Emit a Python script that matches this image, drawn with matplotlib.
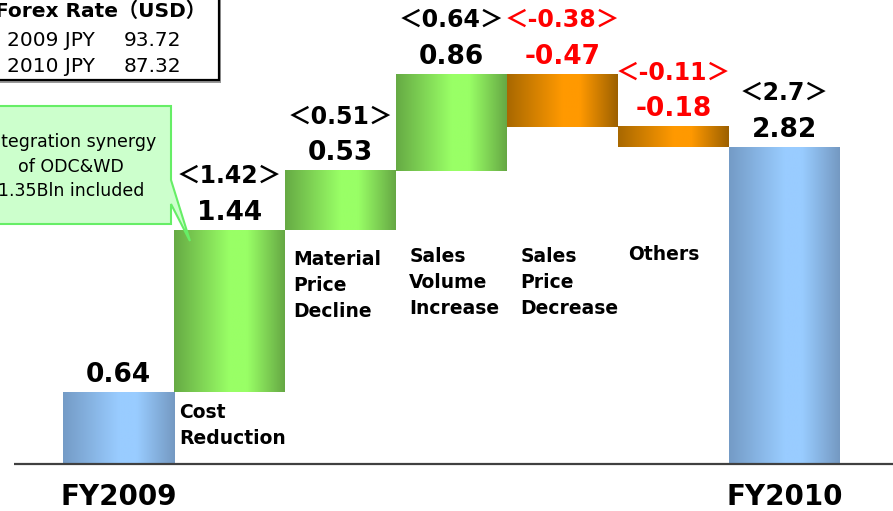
import numpy as np
import matplotlib
matplotlib.use("Agg")
import matplotlib.pyplot as plt
from matplotlib.colors import LinearSegmentedColormap
from matplotlib.patches import Rectangle, Polygon

# ---- data ----
categories = ["FY2009", "Cost\nReduction", "Material\nPrice\nDecline", "Sales\nVolume\nIncrease",
              "Sales\nPrice\nDecrease", "Others", "FY2010"]
values = [0.64, 1.44, 0.53, 0.86, -0.47, -0.18, 2.82]
bracket_values = [None, 1.42, 0.51, 0.64, -0.38, -0.11, 2.7]
kinds = ["total", "delta", "delta", "delta", "delta", "delta", "total"]
forex_title = "Forex Rate（USD）"
forex_rows = [("2009 JPY", "93.72"), ("2010 JPY", "87.32")]
callout_lines = ["Integration synergy", "of ODC&WD", "1.35Bln included"]

# ---- layout / styles ----
label_dx = [0, 0.05, 0.07, 0.12, 0.12, 0.09, 0]
label_top = [0, 0.54, 1.90, 1.93, 1.93, 1.95, 0]

W, H = 893, 511
fig = plt.figure(figsize=(W / 100, H / 100), dpi=100)
ax = fig.add_axes([0, 0, 1, 1])
px_x, px_y = 111.0, 112.4
x0_px, y0_px = 118.5, 464.0
ax.set_xlim(-x0_px / px_x, (W - x0_px) / px_x)
ax.set_ylim(-(H - y0_px) / px_y, y0_px / px_y)
ax.axis("off")

def grad_cmap(dark, light, dark2=None):
    dark2 = dark2 or dark
    return LinearSegmentedColormap.from_list(
        "g", [(0, dark), (0.5, light), (0.66, light), (1, dark2)])

cmaps = {
    "blue": grad_cmap("#749BC6", "#99CCFF", "#7499C2"),
    "green": grad_cmap("#66AA44", "#99FF66", "#66A844"),
    "orange": grad_cmap("#A86800", "#FF9900", "#9C6000"),
}
grad = np.linspace(0, 1, 256).reshape(1, -1)

mixed_font = ["DejaVu Sans", "Noto Sans CJK JP"]
cum = 0.0
for i, (cat, v, bv, kind) in enumerate(zip(categories, values, bracket_values, kinds)):
    if kind == "total":
        bottom, top = 0.0, v
        cum = v
        cm = cmaps["blue"]
    else:
        bottom, top = (cum, cum + v) if v >= 0 else (cum + v, cum)
        cum += v
        cm = cmaps["green"] if v >= 0 else cmaps["orange"]
    ax.imshow(grad, cmap=cm, extent=[i - 0.5, i + 0.5, bottom, top],
              aspect="auto", zorder=2, interpolation="bilinear")
    col = "red" if v < 0 else "black"
    upper = max(bottom, top)
    ax.annotate(f"{v:.2f}", (i, upper), xytext=(0, 12.5), textcoords="offset points",
                ha="center", va="center", fontsize=19, fontweight="bold", color=col,
                family="DejaVu Sans", zorder=5)
    if bv is not None:
        ax.annotate(f"＜{bv:g}＞", (i, upper), xytext=(0, 39), textcoords="offset points",
                    ha="center", va="center", fontsize=17, fontweight="bold", color=col,
                    family=mixed_font, zorder=5)
    if kind == "total":
        ax.annotate(cat, (i, 0), xytext=(0, -24), textcoords="offset points",
                    ha="center", va="center", fontsize=20, fontweight="bold",
                    family="DejaVu Sans")
    else:
        ax.text(i - 0.5 + label_dx[i], label_top[i], cat, ha="left", va="top",
                fontsize=13.5, fontweight="bold", linespacing=1.45,
                family="DejaVu Sans", zorder=5)

# baseline
ax.plot([(14 - x0_px) / px_x, (W - x0_px) / px_x], [0, 0], color="#404040", lw=1.6,
        zorder=3, solid_capstyle="butt")

# forex box (figure pixel coords)
def P(x, y):
    return (x / W, 1 - y / H)

fig.patches.append(Rectangle(P(-8, 83), 229 / W, 90 / H, transform=fig.transFigure,
                             fill=True, facecolor="#999999", edgecolor="none",
                             zorder=0.5))
fig.patches.append(Rectangle(P(-10, 80), 229 / W, 90 / H, transform=fig.transFigure,
                             fill=True, facecolor="white", edgecolor="black", lw=1.6,
                             zorder=1))
fig.text(*P(-5, 11), forex_title, ha="left", va="center", fontsize=14.5,
         fontweight="bold", family=mixed_font)
for r, (lab, val) in enumerate(forex_rows):
    fig.text(*P(7, 40 + 26.5 * r), lab, ha="left", va="center", fontsize=14.5,
             family="DejaVu Sans")
    fig.text(*P(124, 40 + 26.5 * r), val, ha="left", va="center", fontsize=14.5,
             family="DejaVu Sans")

# callout
poly = Polygon([P(-10, 106), P(171, 106), P(171, 180), P(190, 241), P(171, 204),
                P(171, 224), P(-10, 224)], closed=True, transform=fig.transFigure,
               facecolor="#CCFFCC", edgecolor="#66EE66", lw=1.5, zorder=6)
fig.patches.append(poly)
for k, line in enumerate(callout_lines):
    fig.text(*P(71, 142 + 24.5 * k), line, ha="center", va="center", fontsize=12.5,
             family="DejaVu Sans", zorder=7)

fig.savefig("out.png", dpi=100)
